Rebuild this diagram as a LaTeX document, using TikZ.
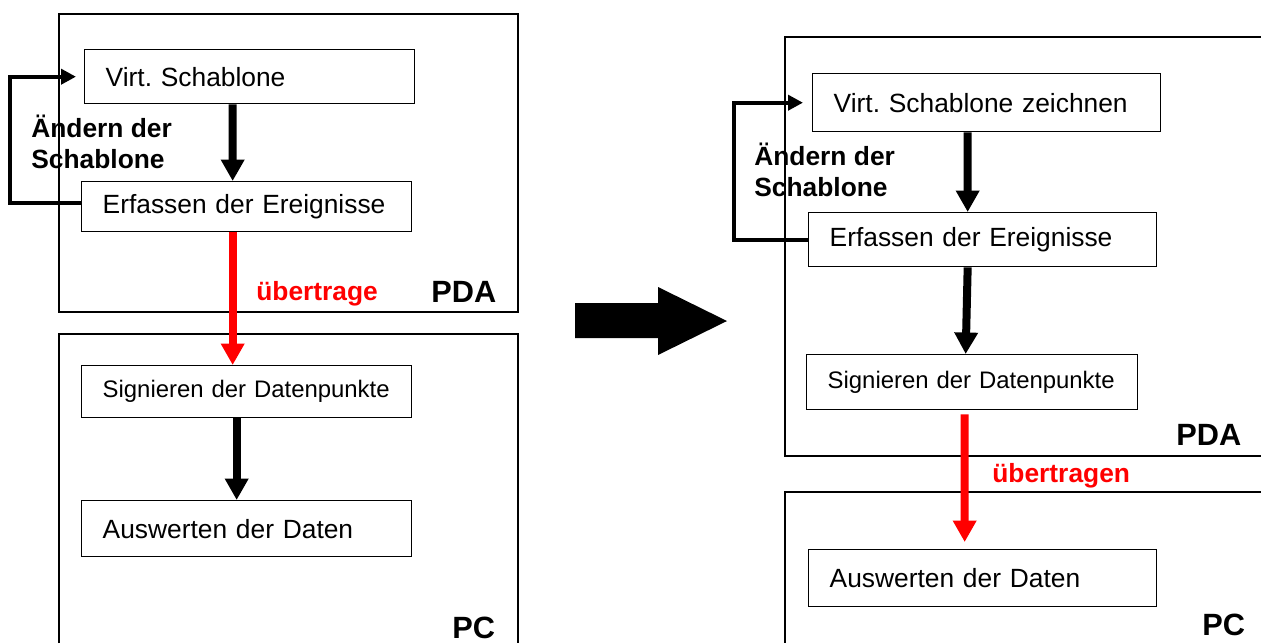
\documentclass[tikz,border=0pt]{standalone}
\usepackage{fontspec}
\setmainfont{Liberation Sans}
\usepackage{tikz}
\usetikzlibrary{arrows.meta, positioning}
\definecolor{sendred}{RGB}{255, 0, 0}
\frenchspacing

\begin{document}
\begin{tikzpicture}[
    x=0.02cm, y=-0.02cm,
    frame/.style={draw, line width=0.9pt},
    box/.style={rectangle, draw, line width=0.8pt, anchor=north west,
                inner xsep=0.42cm, inner ysep=0pt, align=left,
                font=\fontsize{15}{18}\selectfont},
    flow/.style={-{Triangle[width=0.45cm, length=0.43cm]}, line width=0.16cm},
    send/.style={flow, sendred},
    back/.style={-{Triangle[width=0.3cm, length=0.3cm]}, line width=0.08cm},
    note/.style={anchor=base west, align=left, inner sep=0pt,
                 font=\fontsize{15}{17.6}\selectfont\bfseries},
    tag/.style={anchor=base west, inner sep=0pt,
                font=\fontsize{17.5}{20}\selectfont\bfseries}
]
    \useasboundingbox (0,0) rectangle (1261,643);

    % Device frames (left)
    \draw[frame] (59,14) rectangle (518,312);
    \draw[frame] (59,643) |- (518,334) -- (518,643);

    % Device frames (right)
    \draw[frame] (1261,37) -| (785,456) -- (1261,456);
    \draw[frame] (1261,492) -| (785,643);

    % Left workflow
    \node[box, text width=5.76cm, minimum height=1.08cm] (virtL) at (84,49) {Virt. Schablone};
    \node[box, text width=5.76cm, minimum height=1.0cm] (erfL) at (81,181) {Erfassen der Ereignisse};
    \node[box, text width=5.76cm, minimum height=1.04cm, font=\fontsize{13.6}{16}\selectfont] (sigL) at (81,365) {Signieren der Datenpunkte};
    \node[box, text width=5.76cm, minimum height=1.12cm] (ausL) at (81,500) {Auswerten der Daten};

    % Right workflow
    \node[box, text width=6.12cm, minimum height=1.16cm] (virtR) at (812,73) {Virt. Schablone zeichnen};
    \node[box, text width=6.12cm, minimum height=1.08cm] (erfR) at (808,212) {Erfassen der Ereignisse};
    \node[box, text width=5.78cm, minimum height=1.1cm, font=\fontsize{13.6}{16}\selectfont] (sigR) at (806,354) {Signieren der Datenpunkte};
    \node[box, text width=6.12cm, minimum height=1.14cm] (ausR) at (808,549) {Auswerten der Daten};

    % Connections (left)
    \draw[flow] ([xshift=-0.34cm]virtL.south) -- ([xshift=-0.28cm]erfL.north);
    \draw[send] ([xshift=-0.28cm]erfL.south) -- ([xshift=-0.28cm]sigL.north);
    \draw[flow] ([xshift=-0.2cm]sigL.south) -- ([xshift=-0.2cm]ausL.north);
    \draw[back] ([yshift=0.08cm]erfL.west) -- ++(-71,0) |- ([xshift=-0.16cm]virtL.west);

    % Connections (right)
    \draw[flow] ([xshift=-0.38cm]virtR.south) -- ([xshift=-0.3cm]erfR.north);
    \draw[flow] ([xshift=-0.3cm]erfR.south) -- ([xshift=-0.13cm]sigR.north);
    \draw[send, shorten <=0.08cm, shorten >=0.14cm] ([xshift=-0.15cm]sigR.south) -- ([xshift=-0.36cm]ausR.north);
    \draw[back] (erfR.west) -- ++(-74,0) |- ([xshift=-0.18cm]virtR.west);

    % Big transition arrow
    \fill (575,303) -- (658,303) -- (658,287) -- (727,321) -- (658,355) -- (658,338) -- (575,338) -- cycle;

    % Labels
    \node[note] (changeL) at (31,168) {Ändern der\\Schablone};
    \node[note] (changeR) at (754,196) {Ändern der\\Schablone};
    \node[note, sendred] (sendL) at (256,300) {übertrage};
    \node[note, sendred] (sendR) at (992,482) {übertragen};
    \node[tag] (pdaL) at (431,302) {PDA};
    \node[tag] (pcL) at (452,638) {PC};
    \node[tag] (pdaR) at (1176,445) {PDA};
    \node[tag] (pcR) at (1202,635) {PC};

\end{tikzpicture}
\end{document}
